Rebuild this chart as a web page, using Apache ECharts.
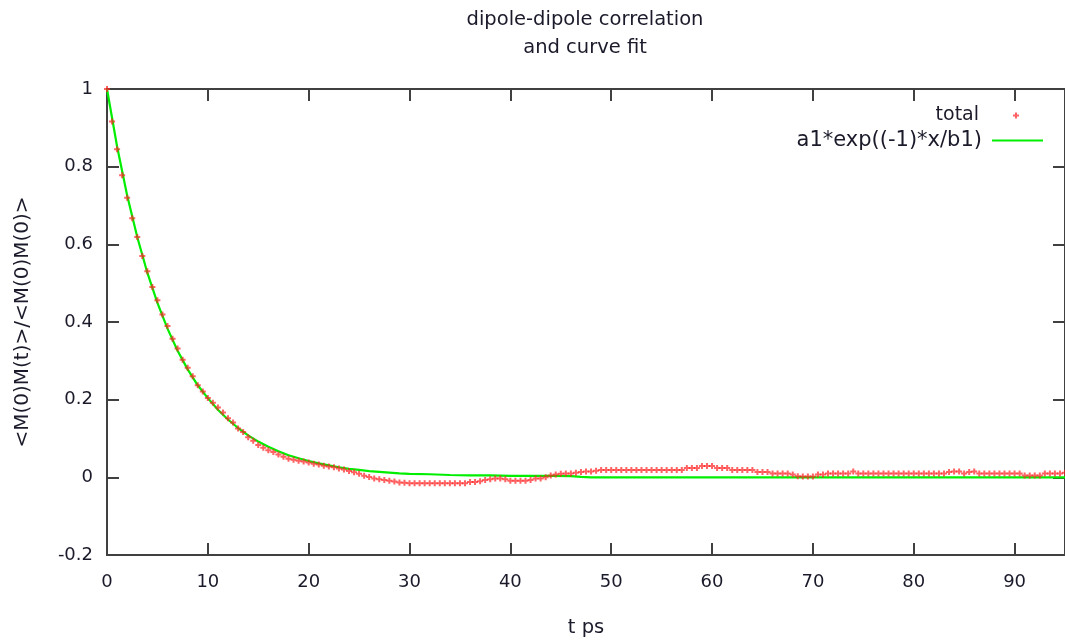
<!DOCTYPE html>
<html>
<head>
<meta charset="utf-8">
<script src="https://cdn.jsdelivr.net/npm/echarts@6/dist/echarts.min.js"></script>
<style>
  html, body { margin: 0; padding: 0; background: #ffffff; }
  #chart { width: 1065px; height: 643px; }
</style>
</head>
<body>
<div id="chart"></div>
<script>
// Normalised dipole autocorrelation, sampled every 0.5 ps from t = 0
const sampleStep = 0.5;
const totalValues = [
  1.000, 0.916, 0.845, 0.778, 0.720, 0.667, 0.619, 0.570, 0.531, 0.490,
  0.456, 0.419, 0.390, 0.357, 0.332, 0.303, 0.282, 0.260, 0.237, 0.221,
  0.204, 0.192, 0.180, 0.167, 0.152, 0.141, 0.126, 0.117, 0.103, 0.094,
  0.083, 0.076, 0.070, 0.065, 0.059, 0.053, 0.048, 0.045, 0.043, 0.041,
  0.038, 0.035, 0.033, 0.030, 0.028, 0.026, 0.023, 0.020, 0.016, 0.013,
  0.009, 0.004, 0.001, -0.003, -0.005, -0.007, -0.009, -0.011, -0.013, -0.014,
  -0.015,
  -0.015, -0.015, -0.015, -0.015, -0.015, -0.015, -0.015, -0.015, -0.015, -0.015, -0.015,
  -0.012, -0.012, -0.010, -0.007, -0.005, -0.003, -0.003, -0.005, -0.009, -0.009,
  -0.009, -0.009, -0.007, -0.003, -0.003, 0.000, 0.005, 0.007, 0.009, 0.010,
  0.010, 0.012, 0.014, 0.015, 0.015, 0.017,
  0.019, 0.019, 0.019, 0.019, 0.019, 0.019, 0.019, 0.019, 0.019, 0.019, 0.019, 0.019,
  0.019, 0.019, 0.019, 0.019, 0.019,
  0.024, 0.024, 0.024,
  0.029, 0.029, 0.029,
  0.024, 0.024, 0.024,
  0.019, 0.019, 0.019, 0.019, 0.019,
  0.014, 0.014, 0.014,
  0.010, 0.010, 0.010, 0.010,
  0.007, 0.003,
  0.002, 0.002, 0.002,
  0.007, 0.007,
  0.010, 0.010, 0.010, 0.010, 0.010,
  0.015,
  0.010, 0.010, 0.010, 0.010, 0.010, 0.010, 0.010, 0.010, 0.010,
  0.010, 0.010, 0.010, 0.010, 0.010, 0.010, 0.010, 0.010, 0.010,
  0.014, 0.015, 0.015, 0.010, 0.014, 0.015,
  0.010, 0.010, 0.010, 0.010, 0.010, 0.010, 0.010, 0.010, 0.010,
  0.005, 0.005, 0.005, 0.005,
  0.010, 0.010, 0.010, 0.010,
  0.012
];

// Fitted curve a1*exp(-x/b1) as drawn by the plotting program
const fitT = [
  0, 1, 2, 3, 4, 5, 6, 7, 8, 9, 10, 11, 12, 13, 14, 15, 16, 17, 18, 19, 20,
  21, 22, 23, 24, 25, 26, 27, 28, 29, 30, 32, 34, 36, 38, 40, 42, 44, 46, 47, 48, 95
];
const fitValues = [
  1.000, 0.852, 0.726, 0.619, 0.527, 0.449, 0.383, 0.326, 0.278, 0.237, 0.204,
  0.174, 0.149, 0.127, 0.108, 0.092, 0.079, 0.067, 0.057, 0.049, 0.042,
  0.036, 0.031, 0.026, 0.022, 0.019, 0.016, 0.014, 0.012, 0.010, 0.009,
  0.008, 0.006, 0.005, 0.005, 0.004, 0.004, 0.004, 0.003, 0.001, 0.000, 0.000
];

const seriesNames = ['total', 'a1*exp((-1)*x/b1)'];
const titleText = 'dipole-dipole correlation\nand curve fit';
const xName = 't ps';
const yName = '<M(0)M(t)>/<M(0)M(0)>';
const xTicks = { min: 0, max: 95, step: 10 };
const yTicks = { min: -0.2, max: 1, step: 0.2 };

const totalData = totalValues.map((v, i) => [i * sampleStep, v]);
const fitData = fitT.map((t, i) => [t, fitValues[i]]);

const FONT = 'DejaVu Sans';
const TEXT = '#1a1a2a';
const FRAME = '#404040';
const RED = '#ff2020';
const GREEN = '#00ee00';
const PLUS = 'path://M2,0L4,0L4,2L6,2L6,4L4,4L4,6L2,6L2,4L0,4L0,2L2,2Z';

function frameAxis(extra) {
  return Object.assign({
    type: 'value',
    axisLine: { show: true, onZero: false, lineStyle: { color: FRAME, width: 2 } },
    axisTick: { show: true, inside: true, length: 12, lineStyle: { color: FRAME, width: 2 } },
    splitLine: { show: false }
  }, extra);
}

const chart = echarts.init(document.getElementById('chart'), null, { renderer: 'canvas' });
chart.setOption({
  animation: false,
  backgroundColor: '#ffffff',
  title: {
    text: titleText,
    left: 580,
    top: 1,
    textAlign: 'center',
    textStyle: { fontFamily: FONT, fontSize: 19.5, fontWeight: 'normal', color: TEXT, lineHeight: 28 }
  },
  legend: [
    {
      data: [{ name: seriesNames[0], icon: PLUS }],
      orient: 'vertical',
      align: 'right',
      right: 46,
      top: 106,
      padding: 0,
      itemWidth: 6,
      itemHeight: 6,
      textStyle: { fontFamily: FONT, fontSize: 19, color: TEXT, padding: [0, 29, 0, 0] }
    },
    {
      data: [{ name: seriesNames[1], icon: 'rect' }],
      orient: 'vertical',
      align: 'right',
      right: 22,
      top: 130,
      padding: 0,
      itemWidth: 51,
      itemHeight: 2,
      itemStyle: { color: GREEN },
      textStyle: { fontFamily: FONT, fontSize: 21, color: TEXT, padding: [0, 5, 0, 0] }
    }
  ],
  grid: { left: 107, top: 89, width: 960, bottom: 86 },
  xAxis: [
    frameAxis({
      position: 'bottom',
      min: xTicks.min, max: xTicks.max, interval: xTicks.step,
      name: xName, nameLocation: 'middle', nameGap: 63,
      nameTextStyle: { fontFamily: FONT, fontSize: 19.5, color: TEXT },
      axisLabel: { showMaxLabel: false, margin: 18, fontFamily: FONT, fontSize: 18, color: TEXT }
    }),
    frameAxis({
      position: 'top',
      min: xTicks.min, max: xTicks.max, interval: xTicks.step,
      axisLabel: { show: false }
    })
  ],
  yAxis: [
    frameAxis({
      position: 'left',
      min: yTicks.min, max: yTicks.max, interval: yTicks.step,
      name: yName, nameLocation: 'middle', nameGap: 74, nameRotate: 90,
      nameTextStyle: { fontFamily: FONT, fontSize: 20, color: TEXT },
      axisLabel: { margin: 14, fontFamily: FONT, fontSize: 18, color: TEXT,
        formatter: v => String(Math.round(v * 10) / 10) }
    }),
    frameAxis({
      position: 'right',
      min: yTicks.min, max: yTicks.max, interval: yTicks.step,
      axisLabel: { show: false }
    })
  ],
  series: [
    {
      name: seriesNames[1],
      type: 'line',
      data: fitData,
      showSymbol: false,
      symbol: 'none',
      smooth: false,
      lineStyle: { color: GREEN, width: 2.2 },
      itemStyle: { color: GREEN },
      z: 2
    },
    {
      name: seriesNames[0],
      type: 'scatter',
      data: totalData,
      symbol: PLUS,
      symbolSize: 6,
      itemStyle: { color: RED, opacity: 0.7 },
      z: 3
    }
  ]
});
</script>
</body>
</html>
